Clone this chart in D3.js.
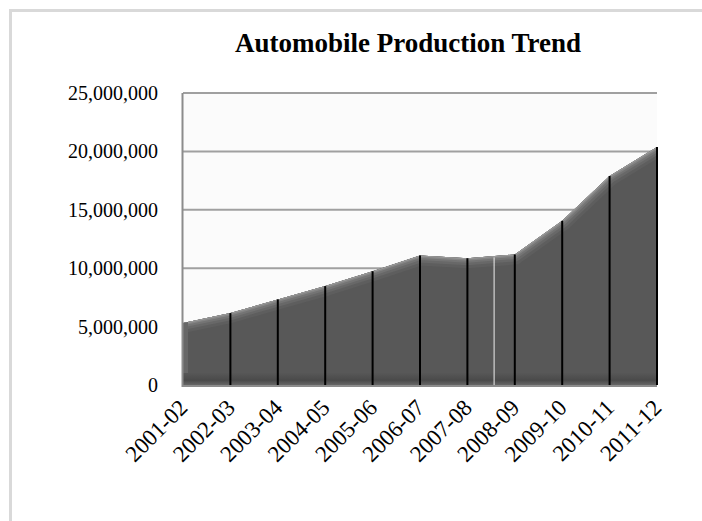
<!DOCTYPE html>
<html>
<head>
<meta charset="utf-8">
<script src="https://cdn.jsdelivr.net/npm/d3@7"></script>
<style>
  body { margin: 0; background: #fff; }
  text { font-family: "Liberation Serif", "Times New Roman", serif; fill: #000; }
</style>
</head>
<body>
<div id="viz-wrapper"></div>
<script>
  // chart data
  var years = ["2001-02", "2002-03", "2003-04", "2004-05", "2005-06", "2006-07",
               "2007-08", "2008-09", "2009-10", "2010-11", "2011-12"];
  var production = [5316191, 6157780, 7327838, 8467853, 9743503, 11087997,
                    10853930, 11175479, 14057063, 17892511, 20366432];
  var yTicks = [0, 5000000, 10000000, 15000000, 20000000, 25000000];

  var width = 702,
      height = 521;

  var plot = {left: 183, right: 657, top: 93, bottom: 385};

  var svg = d3.select("#viz-wrapper")
    .append("svg")
    .attr("width", width)
    .attr("height", height);

  // outer frame
  svg.append("path")
    .attr("d", "M10.5," + height + "V10.5H" + width)
    .attr("fill", "none")
    .attr("stroke", "#d9d9d9")
    .attr("stroke-width", 3);

  var x = d3.scalePoint()
    .domain(years)
    .range([plot.left, plot.right]);

  var y = d3.scaleLinear()
    .domain([0, 25000000])
    .range([plot.bottom, plot.top]);

  var data = years.map(function(d, i) { return {year: d, value: production[i]}; });

  // plot background
  svg.append("rect")
    .attr("x", plot.left)
    .attr("y", plot.top)
    .attr("width", plot.right - plot.left)
    .attr("height", plot.bottom - plot.top)
    .attr("fill", "#fbfbfb");

  // gridlines
  svg.append("g")
    .selectAll("line")
    .data(yTicks.slice(1))
    .enter()
    .append("line")
    .attr("x1", plot.left)
    .attr("x2", plot.right)
    .attr("y1", function(d) { return y(d); })
    .attr("y2", function(d) { return y(d); })
    .attr("stroke", "#a0a0a0")
    .attr("stroke-width", 2);

  // y labels
  svg.append("g")
    .selectAll("text")
    .data(yTicks)
    .enter()
    .append("text")
    .attr("x", plot.left - 25)
    .attr("y", function(d) { return y(d); })
    .attr("dy", "0.35em")
    .attr("text-anchor", "end")
    .style("font-size", "20px")
    .text(function(d) { return d3.format(",")(d); });

  var area = d3.area()
    .x(function(d) { return x(d.year); })
    .y0(plot.bottom)
    .y1(function(d) { return y(d.value); });

  var topLine = d3.line()
    .x(function(d) { return x(d.year); })
    .y(function(d) { return y(d.value); });

  var defs = svg.append("defs");

  defs.append("clipPath")
    .attr("id", "areaClip")
    .append("path")
    .attr("d", area(data));

  var grad = defs.append("linearGradient")
    .attr("id", "bottomBevel")
    .attr("x1", 0).attr("x2", 0).attr("y1", 0).attr("y2", 1);
  grad.append("stop").attr("offset", "0%").attr("stop-color", "#575757");
  grad.append("stop").attr("offset", "60%").attr("stop-color", "#4a4a4a");
  grad.append("stop").attr("offset", "100%").attr("stop-color", "#666");

  var shape = svg.append("g").attr("clip-path", "url(#areaClip)");

  shape.append("path")
    .attr("d", area(data))
    .attr("fill", "#585858");

  // bevel: light band under the top edge fading into the fill
  var bands = [[20, "#5e5e5e"], [14, "#686868"], [9, "#747474"], [5, "#848484"], [2, "#9a9a9a"]];
  shape.selectAll("path.bevel")
    .data(bands)
    .enter()
    .append("path")
    .attr("class", "bevel")
    .attr("d", topLine(data))
    .attr("fill", "none")
    .attr("stroke", function(d) { return d[1]; })
    .attr("stroke-width", function(d) { return d[0]; });

  // left bevel
  shape.append("rect")
    .attr("x", plot.left)
    .attr("y", plot.top)
    .attr("width", 5)
    .attr("height", plot.bottom - plot.top)
    .attr("fill", "#676767");

  // bottom bevel
  shape.append("rect")
    .attr("x", plot.left)
    .attr("y", plot.bottom - 12)
    .attr("width", plot.right - plot.left)
    .attr("height", 12)
    .attr("fill", "url(#bottomBevel)");

  // drop lines
  svg.append("g")
    .selectAll("line")
    .data(data.slice(1))
    .enter()
    .append("line")
    .attr("x1", function(d) { return x(d.year); })
    .attr("x2", function(d) { return x(d.year); })
    .attr("y1", function(d) { return y(d.value); })
    .attr("y2", plot.bottom)
    .attr("stroke", "#000")
    .attr("stroke-width", 2);

  // thin light line between 2007-08 and 2008-09
  var midX = (x("2007-08") + x("2008-09")) / 2 + 3;
  svg.append("line")
    .attr("x1", midX)
    .attr("x2", midX)
    .attr("y1", y((production[6] + production[7]) / 2) + 1)
    .attr("y2", plot.bottom)
    .attr("stroke", "#eeeeee")
    .attr("stroke-width", 1);

  // axes lines
  svg.append("line")
    .attr("x1", plot.left - 0.5).attr("x2", plot.left - 0.5)
    .attr("y1", plot.top).attr("y2", plot.bottom + 2)
    .attr("stroke", "#8c8c8c")
    .attr("stroke-width", 2);

  svg.append("line")
    .attr("x1", plot.left - 1).attr("x2", plot.right)
    .attr("y1", plot.bottom + 1).attr("y2", plot.bottom + 1)
    .attr("stroke", "#8c8c8c")
    .attr("stroke-width", 2);

  // x labels
  svg.append("g")
    .selectAll("text")
    .data(years)
    .enter()
    .append("text")
    .attr("transform", function(d) {
      return "translate(" + (x(d) + 6) + "," + (plot.bottom + 24) + ") rotate(-45)";
    })
    .attr("text-anchor", "end")
    .style("font-size", "23px")
    .text(function(d) { return d; });

  // title
  svg.append("text")
    .attr("x", 408)
    .attr("y", 52)
    .attr("text-anchor", "middle")
    .style("font-size", "27px")
    .style("font-weight", "bold")
    .text("Automobile Production Trend");
</script>
</body>
</html>
